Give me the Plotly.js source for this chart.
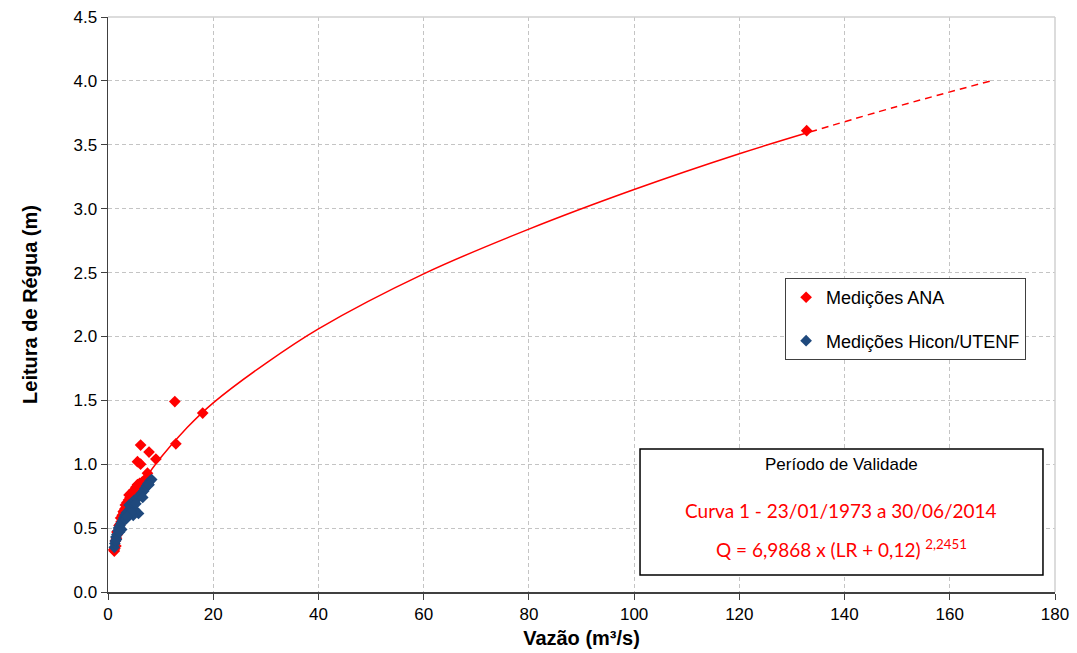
<!DOCTYPE html>
<html>
<head>
<meta charset="utf-8">
<script src="https://cdn.plot.ly/plotly-3.0.1.min.js"></script>
<style>html,body{margin:0;padding:0;background:#fff;}#chart{width:1077px;height:653px;}</style>
</head>
<body>
<div id="chart"></div>
<script>
// Medições ANA (vazão m³/s, leitura m)
var anaQ = [1.2,1.3,1.5,1.4,1.6,1.8,2.0,2.2,2.3,2.5,2.4,2.7,3.0,3.2,3.5,3.6,3.9,4.2,4.0,4.5,4.8,5.0,5.3,5.6,6.0,6.5,7.0,7.5,5.6,6.2,9.1,7.8,6.2,12.9,18.0,12.7,132.8,1.1,1.7,2.1,2.9,3.3,4.4];
var anaH = [0.32,0.34,0.36,0.40,0.42,0.45,0.48,0.50,0.53,0.55,0.58,0.60,0.62,0.65,0.66,0.70,0.72,0.74,0.76,0.77,0.78,0.80,0.82,0.84,0.85,0.86,0.88,0.93,1.02,1.00,1.04,1.095,1.15,1.16,1.40,1.49,3.61,0.33,0.47,0.52,0.63,0.68,0.72];
// Medições Hicon/UTENF
var hicQ = [1.2,1.3,1.4,1.5,1.7,1.9,2.0,2.3,2.5,2.8,3.0,3.2,3.5,3.8,4.2,4.5,4.0,4.6,5.1,5.8,4.8,5.0,5.5,6.0,6.3,6.8,7.0,7.3,7.6,8.0,8.3,3.4,2.6,4.4,1.6,2.2,3.6,5.3,6.6,7.8];
var hicH = [0.35,0.38,0.40,0.43,0.45,0.48,0.50,0.52,0.54,0.56,0.58,0.60,0.62,0.63,0.65,0.66,0.68,0.70,0.64,0.615,0.60,0.72,0.73,0.75,0.77,0.79,0.81,0.83,0.85,0.87,0.88,0.57,0.49,0.62,0.41,0.47,0.59,0.69,0.74,0.84];
// Curva-chave
var curveQ = [1,2,4,7,10,15,20,30,40,60,80,100,120,133.4];
var curveH = [0.30,0.45,0.66,0.88,1.05,1.285,1.48,1.79,2.06,2.49,2.84,3.15,3.43,3.60];
// Extrapolação (tracejada)
var extQ = [133.4,150,167.8];
var extH = [3.60,3.80,4.00];

var xTicks = [0,20,40,60,80,100,120,140,160,180];
var yTicks = [0,0.5,1,1.5,2,2.5,3,3.5,4,4.5];
var yTickText = ['0.0','0.5','1.0','1.5','2.0','2.5','3.0','3.5','4.0','4.5'];

var legendLabels = ['Medições ANA','Medições Hicon/UTENF'];
var boxTitle = 'Período de Validade';
var boxLine1 = 'Curva 1 - 23/01/1973 a 30/06/2014';
var boxLine2 = 'Q = 6,9868 x (LR + 0,12) <sup>2,2451</sup>';

var traces = [
  {x: curveQ, y: curveH, mode:'lines', line:{color:'#FF0000', width:1.5, shape:'spline'}, showlegend:false, hoverinfo:'skip'},
  {x: extQ, y: extH, mode:'lines', line:{color:'#FF0000', width:1.5, dash:'7px,5px', shape:'spline'}, showlegend:false, hoverinfo:'skip'},
  {x: anaQ, y: anaH, mode:'markers', name: legendLabels[0], legendgroup:'a', marker:{symbol:'diamond', size:9, color:'#FF0000'}},
  {x: hicQ, y: hicH, mode:'markers', name: legendLabels[1], legendgroup:'b', marker:{symbol:'diamond', size:9, color:'#1F497D'}}
];

var layout = {
  width:1077, height:653,
  margin:{l:108, r:22, t:17, b:61},
  paper_bgcolor:'#fff', plot_bgcolor:'#fff',
  font:{family:'Liberation Sans, Arial, sans-serif', color:'#000'},
  showlegend:true,
  xaxis:{
    range:[0,180], tickvals:xTicks, ticktext:xTicks.map(String),
    showgrid:true, gridcolor:'#c4c4c4', griddash:'4px,3px', gridwidth:1,
    zeroline:false, showline:true, linecolor:'#404040', linewidth:1.5,
    ticks:'outside', ticklen:6, tickcolor:'#404040',
    tickfont:{size:17, color:'#000'},
    title:{text:'<b>Vazão (m³/s)</b>', font:{size:20, color:'#000'}, standoff:8}
  },
  yaxis:{
    range:[0,4.5], tickvals:yTicks, ticktext:yTickText,
    showgrid:true, gridcolor:'#c4c4c4', griddash:'4px,3px', gridwidth:1,
    zeroline:false, showline:true, linecolor:'#404040', linewidth:1.5,
    ticks:'outside', ticklen:6, tickcolor:'#404040',
    tickfont:{size:17, color:'#000'},
    title:{text:'<b>Leitura de Régua (m)</b>', font:{size:20, color:'#000'}, standoff:30}
  },
  legend:{
    x:0.715, y:0.546, xanchor:'left', yanchor:'top',
    bgcolor:'#fff', bordercolor:'#404040', borderwidth:1,
    font:{size:18, color:'#000'},
    traceorder:'grouped', tracegroupgap:17,
    itemwidth:30
  },
  shapes:[
    {type:'line', xref:'paper', yref:'paper', x0:0, x1:1, y0:1, y1:1, line:{color:'#d0d0d0', width:1.5}},
    {type:'line', xref:'paper', yref:'paper', x0:1, x1:1, y0:0, y1:1, line:{color:'#d0d0d0', width:1.5}},
    {type:'rect', xref:'paper', yref:'paper', x0:0.5618, x1:0.9873, y0:0.0296, y1:0.2487, fillcolor:'#fff', line:{color:'#000', width:1.5}, layer:'above'}
  ],
  annotations:[
    {xref:'paper', yref:'paper', x:0.7745, y:0.222, text:boxTitle, showarrow:false, font:{size:17, color:'#000'}, xanchor:'center', yanchor:'middle'},
    {xref:'paper', yref:'paper', x:0.7745, y:0.141, text:boxLine1, showarrow:false, font:{family:'Lato, Liberation Sans, sans-serif', size:19, color:'#FF0000'}, xanchor:'center', yanchor:'middle'},
    {xref:'paper', yref:'paper', x:0.7745, y:0.075, text:boxLine2, showarrow:false, font:{family:'Lato, Liberation Sans, sans-serif', size:19, color:'#FF0000'}, xanchor:'center', yanchor:'middle'}
  ]
};

Plotly.newPlot('chart', traces, layout, {displayModeBar:false, staticPlot:true});
</script>
</body>
</html>
